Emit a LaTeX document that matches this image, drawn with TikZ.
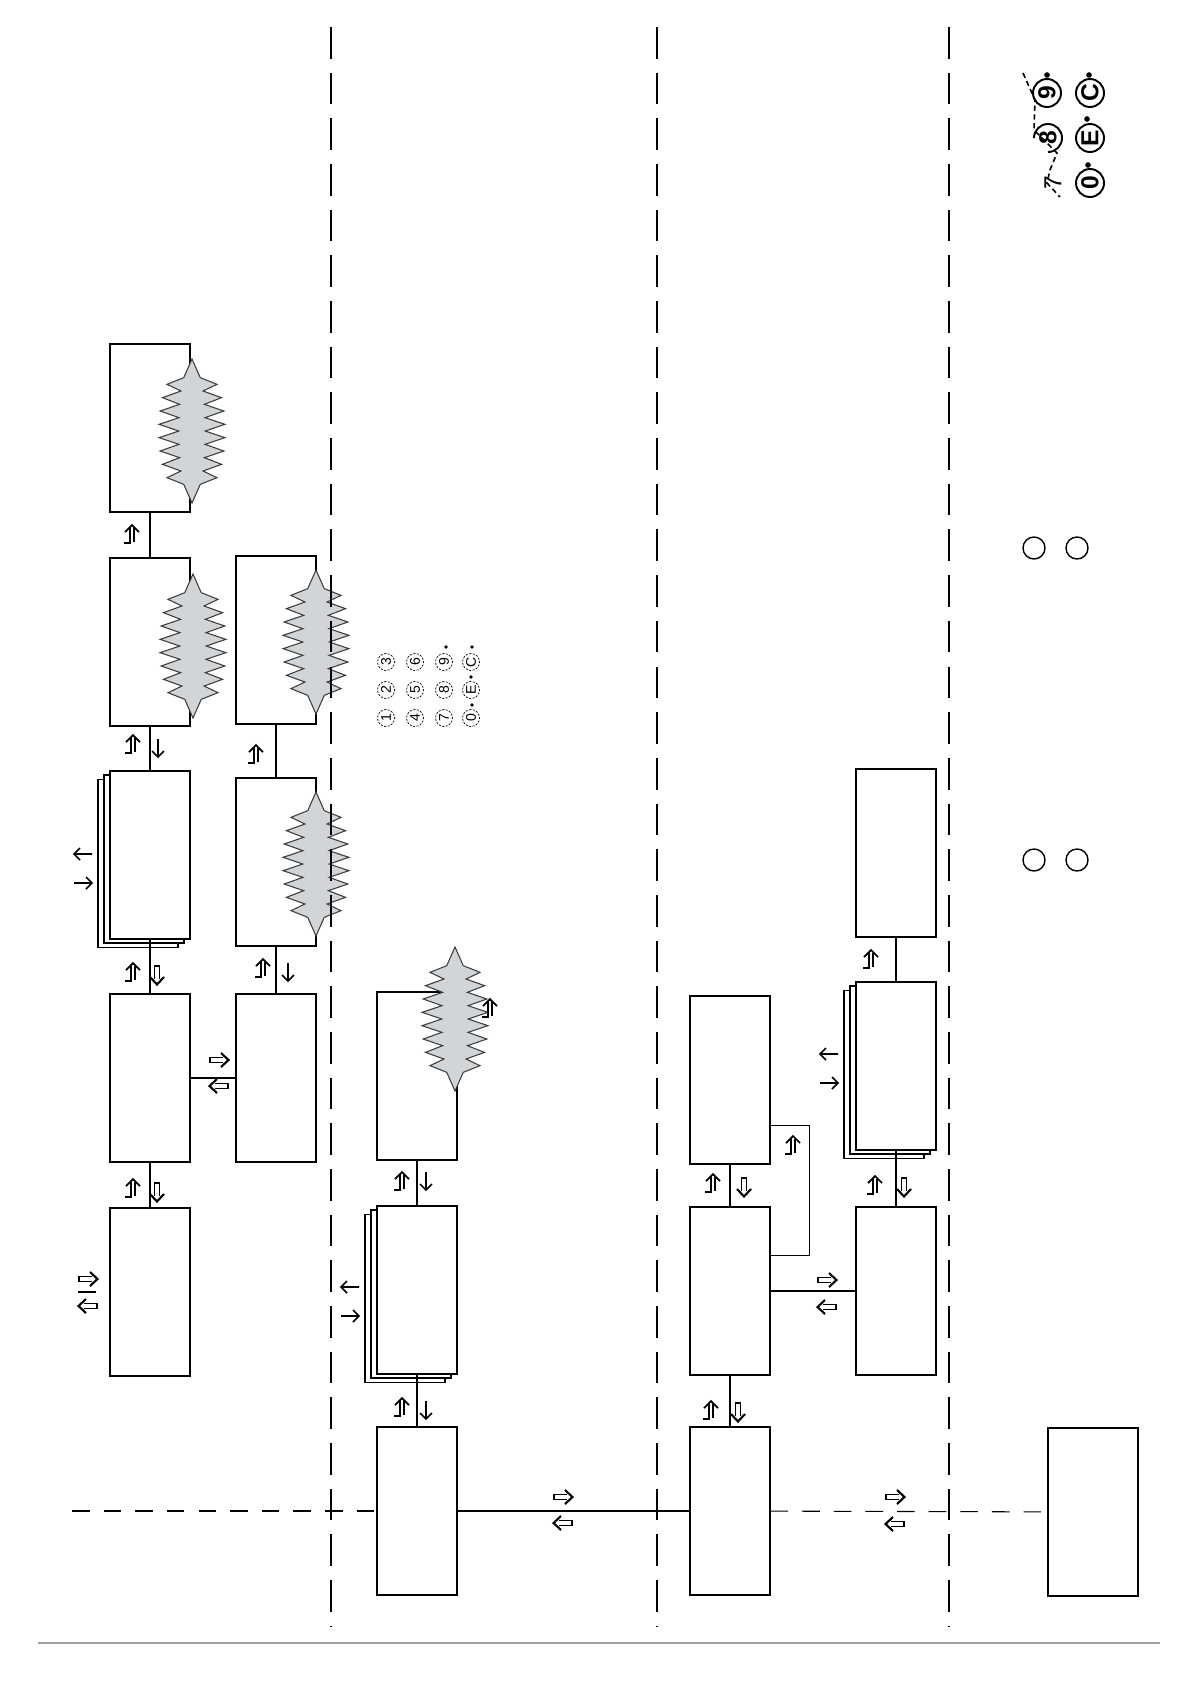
\documentclass[tikz,border=0pt]{standalone}
\usepackage{fontspec}
\setmainfont{Liberation Sans}
\usetikzlibrary{positioning,shadows,calc}
\definecolor{burstgray}{RGB}{210,213,216}
\definecolor{burstline}{RGB}{60,60,60}
\definecolor{rulegray}{RGB}{160,160,160}

\tikzset{
  % up arrow with a foot
  hookup/.pic={
    \draw[line width=1pt] (-7,-2) -- (0,-9) -- (7,-2);
    \draw[line width=1.4pt] (-2,-7) -- (-2,9) -- (-8,9);
    \draw[line width=0.6pt] (2,-6) -- (2,8);
  },
  % hollow arrow, points right
  dblarrow/.pic={
    \draw[line width=0.7pt] (4,-2.2) -- (-9,-2.2) -- (-9,2.2) -- (4,2.2);
    \draw[line width=1.2pt] (2,-7) -- (9.5,0) -- (2,7);
  },
  % plain arrow, points right
  sarrow/.pic={
    \draw[line width=0.9pt] (-9,0) -- (9,0) (3,-6) -- (9,0) -- (3,6);
  },
  burstfill/.style={fill=burstgray,draw=burstline,line width=0.6pt},
  burst/.pic={
    \filldraw[burstfill] (0,-72)
      foreach \j [evaluate=\j as \s using {(-90+10*\j)/90},
                  evaluate=\j as \f using {mod(\j,2)==0 ? 1 : 0.4}] in {1,...,17}
        { -- ({33*\f*(1-(\s)^2)^0.3},{60*(\s)}) }
      -- (0,72)
      foreach \j [evaluate=\j as \s using {(-90+10*\j)/90},
                  evaluate=\j as \f using {mod(\j,2)==0 ? 1 : 0.4}] in {1,...,17}
        { -- ({-33*\f*(1-(\s)^2)^0.3},{-60*(\s)}) }
      -- cycle;
  }
}

\begin{document}
\begin{tikzpicture}[x=0.02cm,y=-0.02cm,
  box/.style={draw,fill=white,line width=0.7pt,minimum width=1.6cm,minimum height=3.36cm,inner sep=0pt},
  stackbox/.style={box,
    copy shadow={shadow xshift=-0.24cm,shadow yshift=-0.17cm,fill=white,draw=black},
    copy shadow={shadow xshift=-0.12cm,shadow yshift=-0.08cm,fill=white,draw=black}},
  link/.style={line width=0.6pt},
  busline/.style={line width=0.6pt,dash pattern=on 10pt off 8pt},
  sepline/.style={line width=0.6pt,dash pattern=on 18pt off 8pt},
  cutline/.style={line width=0.9pt,dash pattern=on 3pt off 2pt},
  padkey/.style={draw,circle,line width=0.4pt,dash pattern=on 1.2pt off 0.8pt,
    minimum size=0.34cm,inner sep=0pt,font=\fontsize{8}{8}\selectfont,rotate=90},
  padbig/.style={draw,circle,line width=1.1pt,minimum size=0.56cm,inner sep=0pt,
    font=\fontsize{14}{14}\selectfont\bfseries,rotate=90}
]
\useasboundingbox (0,0) rectangle (1190,1684);

% Column A
\node[box] (A1) at (150,428) {};
\node[box] (A2) at (150,642) {};
\node[stackbox] (A3) at (150,855) {};
\node[box] (A4) at (150,1078) {};
\node[box] (A5) at (150,1292) {};
% Column B
\node[box] (B1) at (276,640) {};
\node[box] (B2) at (276,862) {};
\node[box] (B3) at (276,1078) {};
% Column C
\node[box] (C1) at (417,1076) {};
\node[stackbox] (C2) at (417,1290) {};
\node[box] (C3) at (417,1511) {};
% Column D
\node[box] (D1) at (730,1080) {};
\node[box] (D2) at (730,1291) {};
\node[box] (D3) at (730,1511) {};
% Column E
\node[box] (E1) at (896,853) {};
\node[stackbox] (E2) at (896,1066) {};
\node[box] (E3) at (896,1291) {};
% far right
\node[box,minimum width=1.8cm] (F1) at (1093,1512) {};

% links
\draw[link] (A1) -- (A2);
\draw[link] (A2) -- (A3);
\draw[link] (A3) -- (A4);
\draw[link] (A4) -- (A5);
\draw[link] (A4) -- (B3);
\draw[link] (B1) -- (B2);
\draw[link] (B2) -- (B3);
\draw[link] (C1) -- (C2);
\draw[link] (C2) -- (C3);
\draw[link] (C3) -- (D3);
\draw[link] (D1) -- (D2);
\draw[link] (D2) -- (D3);
\draw[link] ([yshift=0.78cm]D1.south east) -- ++(39,0) |- ([yshift=-0.98cm]D2.north east);
\draw[link] (D2) -- (E3);
\draw[link] (E1) -- (E2);
\draw[link] (E2) -- (E3);
\draw[busline] (72,1511) -- (C3);
\draw[busline] (D3) -- (F1);
\draw[busline] (78,1292) -- (A5);

% bursts
\pic at (192,431) {burst};
\pic at (193,646) {burst};
\pic at (316,642) {burst};
\pic at (316,864) {burst};
\pic at (455,1019) {burst};

% arrow marks
\foreach \x/\y in {132/534,133/744,133/972,133/1188,256/754,263/968,490/1008,402/1181,
                   402/1407,713/1183,793/1145,711/1410,871/959,875/1185}
  \pic at (\x,\y) {hookup};
\foreach \x/\y in {158/748,288/972,426/1181,426/1410}
  \pic[rotate=-90] at (\x,\y) {sarrow};
\foreach \x/\y in {157/975,157/1192,744/1187,738/1412,904/1187}
  \pic[rotate=-90] at (\x,\y) {dblarrow};
\foreach \x/\y in {83/883,350/1316,829/1083}
  \pic at (\x,\y) {sarrow};
\foreach \x/\y in {83/854,350/1287,829/1054}
  \pic[rotate=180] at (\x,\y) {sarrow};
\foreach \x/\y in {88/1279,219/1060,563/1497,827/1280,895/1497}
  \pic at (\x,\y) {dblarrow};
\foreach \x/\y in {88/1306,219/1086,563/1523,827/1307,895/1524}
  \pic[rotate=180] at (\x,\y) {dblarrow};

% small keypad
\foreach \t/\x/\y in {3/386/662,6/415/662,9/444/662,C/471/662,
                      2/386/690,5/415/690,8/444/690,E/471/690,
                      1/386/718,4/415/718,7/444/718,0/471/718}
  \node[padkey] (k\t) at (\x,\y) {\t};
\foreach \x/\y in {446/647,472/647,471/677,472/705}
  \fill (\x,\y) circle (1.1pt);

% keypad, top right
\node[padbig] (b9) at (1047,93) {9};
\node[padbig] (bC) at (1090,93) {C};
\node[padbig,draw=none] (b8) at (1048,138) {8};
\draw[line width=1.1pt] (1048,138) ++(180:14) arc[start angle=180,end angle=450,radius=14];
\node[padbig] (bE) at (1090,138) {E};
\node[padbig,draw=none,font=\fontsize{14}{14}\selectfont] (b7) at (1053,183) {7};
\node[padbig] (b0) at (1090,183) {0};
\foreach \x/\y in {1047/75,1089/75,1087/119,1088/165}
  \fill (\x,\y) circle (1.6pt);
\draw[cutline] (1023,73) -- (1035,100) -- (1034,130) -- (1057,153) -- (1050,170)
  -- (1047,183) -- (1060,197);

% plain circles
\foreach \x/\y in {1034/548,1077/548,1034/860,1077/860}
  \draw[line width=0.8pt] (\x,\y) circle (11);

% separators
\foreach \x in {331,657,949}
  \draw[sepline] (\x,27) -- (\x,1627);
\draw[rulegray,line width=0.6pt] (38,1643) -- (1160,1643);
\end{tikzpicture}
\end{document}
